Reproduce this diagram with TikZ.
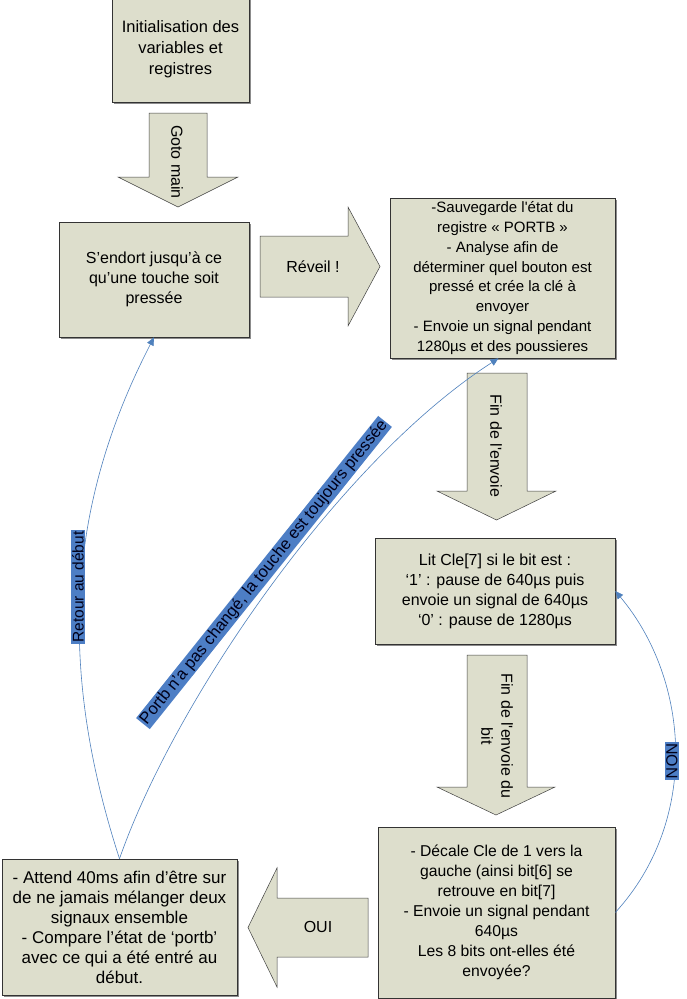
\documentclass[tikz,border=0pt]{standalone}
\usepackage{fontspec}
\setmainfont{Liberation Sans}
\usetikzlibrary{arrows.meta,shadows}
\definecolor{boxfill}{RGB}{221,222,204}
\definecolor{lblue}{RGB}{77,126,197}
\definecolor{cline}{RGB}{79,129,189}
\newcommand\setfs[2]{\fontsize{#1}{#2}\selectfont}
\newcommand\sq{\textquotesingle}
\tikzset{
  flowbox/.style={draw=black!80, line width=0.6pt, fill=boxfill, align=center, inner sep=3pt,
    drop shadow={shadow xshift=1.5pt, shadow yshift=-1.5pt, fill=black!45, opacity=1}},
  blockarrow/.style={draw=black!75, line width=0.5pt, fill=boxfill},
  conn/.style={draw=cline, line width=0.6pt, -{Triangle[length=8pt,width=7pt]}},
  lbl/.style={fill=lblue, inner sep=1pt, text=black!90!blue},
  atext/.style={align=center, inner sep=0pt},
}
\begin{document}
\begin{tikzpicture}[x=1pt,y=-1pt]
\useasboundingbox (0,0) rectangle (687,999);
\fill[white] (0,0) rectangle (687,999);

% boxes
\node[flowbox, minimum width=137pt, minimum height=105pt, font=\setfs{16.5}{21}] (b1) at (180.5,49.5)
  {Initialisation des\\variables et\\registres};
\node[flowbox, minimum width=190pt, minimum height=115pt, font=\setfs{16}{20}] (b2) at (154,279.5)
  {S’endort jusqu’à ce\\qu’une touche soit\\pressée};
\node[flowbox, minimum width=225pt, minimum height=160pt, font=\setfs{15}{19.8}] (b3) at (502.5,278)
  {-Sauvegarde l\sq état du\\registre « PORTB »\\- Analyse afin de\\déterminer quel bouton est\\pressé et crée la clé à\\envoyer\\- Envoie un signal pendant\\1280µs et des poussieres};
\node[flowbox, minimum width=240pt, minimum height=106pt, font=\setfs{16}{20}] (b4) at (495,591)
  {Lit Cle[7] si le bit est :\\‘1’ : pause de 640µs puis\\envoie un signal de 640µs\\‘0’ : pause de 1280µs};
\node[flowbox, minimum width=237pt, minimum height=171pt, font=\setfs{15.7}{20}] (b5) at (496.5,912.5)
  {- Décale Cle de 1 vers la\\gauche (ainsi bit[6] se\\retrouve en bit[7]\\- Envoie un signal pendant\\640µs\\Les 8 bits ont-elles été\\envoyée?};
\node[flowbox, minimum width=235pt, minimum height=136pt, font=\setfs{17}{20}] (b6) at (119.5,927)
  {- Attend 40ms afin d’être sur\\de ne jamais mélanger deux\\signaux ensemble\\- Compare l’état de ‘portb’\\avec ce qui a été entré au\\début.};

% block arrows
\draw[blockarrow] (149,113) -- (207,113) -- (207,177) -- (238,177) -- (178,207) -- (118,177) -- (149,177) -- cycle;
\node[atext, rotate=-90, font=\setfs{16}{20}] (t1) at (177,162) {Goto main};

\draw[blockarrow] (260,236) -- (348,236) -- (348,207) -- (380,266.5) -- (348,326) -- (348,297) -- (260,297) -- cycle;
\node[atext, font=\setfs{16}{20}] (t2) at (313,267) {Réveil !};

\draw[blockarrow] (467,373) -- (527,373) -- (527,491) -- (556,491) -- (496.5,520) -- (437,491) -- (467,491) -- cycle;
\node[atext, rotate=-90, font=\setfs{16}{20}] (t3) at (496,446) {Fin de l\sq envoie};

\draw[blockarrow] (467,655) -- (527,655) -- (527,787) -- (555,787) -- (496,815) -- (437,787) -- (467,787) -- cycle;
\node[atext, rotate=-90, font=\setfs{16}{20}] (t4) at (497,736) {Fin de l\sq envoie du\\bit};

\draw[blockarrow] (368,898) -- (277,898) -- (277,868) -- (248,927.5) -- (277,987) -- (277,957) -- (368,957) -- cycle;
\node[atext, font=\setfs{16}{20}] (t5) at (318,927) {OUI};

% connectors
\draw[conn] (b6.north) .. controls (55,660) and (70,500) .. (b2.south);
\draw[conn] (b6.north) .. controls (175,700) and (340,460) .. ([xshift=-4pt]b3.south);
\draw[conn] (b5.east) .. controls (700,820) and (690,680) .. (b4.east);

% connector labels
\node[lbl, rotate=90, font=\setfs{15.5}{18}] (l1) at (78,587) {Retour au début};
\node[lbl, rotate=51.3, font=\setfs{16.5}{18}] (l2) at (264,572.5) {Portb n’a pas changé, la touche est toujours pressée};
\node[lbl, rotate=-90, font=\setfs{16}{18}] (l3) at (672,761) {NON};
\end{tikzpicture}
\end{document}
